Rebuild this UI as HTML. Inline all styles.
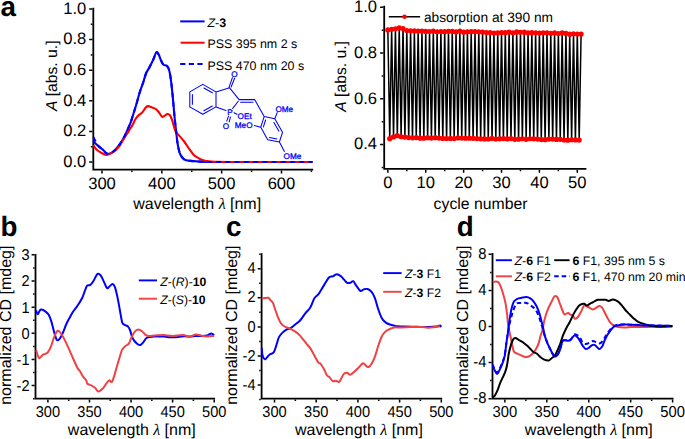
<!DOCTYPE html>
<html><head><meta charset="utf-8"><style>
html,body{margin:0;padding:0;background:#fff;width:685px;height:439px;overflow:hidden}
svg{display:block}
text{font-family:"Liberation Sans",sans-serif;text-rendering:geometricPrecision}
</style></head><body>
<svg width="685" height="439" viewBox="0 0 685 439">
<rect width="685" height="439" fill="#fff"/>
<path d="M93.30 8.60 V169.70 H312.30" fill="none" stroke="#000" stroke-width="1.80" stroke-linecap="square"/>
<path d="M92.40 162.00H89.20M92.40 131.40H89.20M92.40 100.80H89.20M92.40 70.20H89.20M92.40 39.60H89.20M92.40 9.00H89.20" stroke="#000" stroke-width="1.50"/>
<path d="M92.40 146.70H90.80M92.40 116.10H90.80M92.40 85.50H90.80M92.40 54.90H90.80M92.40 24.30H90.80" stroke="#000" stroke-width="1.50"/>
<path d="M102.00 170.60V173.60M161.83 170.60V173.60M221.66 170.60V173.60M281.49 170.60V173.60" stroke="#000" stroke-width="1.50"/>
<path d="M131.91 170.60V172.10M191.75 170.60V172.10M251.58 170.60V172.10M311.41 170.60V172.10" stroke="#000" stroke-width="1.50"/>
<text x="86.30" y="166.80" font-size="16.60" text-anchor="end">0.0</text>
<text x="86.30" y="136.20" font-size="16.60" text-anchor="end">0.2</text>
<text x="86.30" y="105.60" font-size="16.60" text-anchor="end">0.4</text>
<text x="86.30" y="75.00" font-size="16.60" text-anchor="end">0.6</text>
<text x="86.30" y="44.40" font-size="16.60" text-anchor="end">0.8</text>
<text x="86.30" y="13.80" font-size="16.60" text-anchor="end">1.0</text>
<text x="102.00" y="188.60" font-size="16.60" text-anchor="middle">300</text>
<text x="161.83" y="188.60" font-size="16.60" text-anchor="middle">400</text>
<text x="221.66" y="188.60" font-size="16.60" text-anchor="middle">500</text>
<text x="281.49" y="188.60" font-size="16.60" text-anchor="middle">600</text>
<text x="197.20" y="209.20" font-size="16.00" text-anchor="middle">wavelength <tspan font-family="Liberation Serif" font-style="italic">&#955;</tspan> [nm]</text>
<text transform="translate(56.5 75.8) rotate(-90)" font-size="15.7" text-anchor="middle"><tspan font-style="italic">A</tspan> [abs. u.]</text>
<path d="M93.3 141.0 C93.8 141.6 95.5 143.5 96.5 144.5 C97.5 145.5 98.5 146.2 99.6 147.1 C100.6 147.9 101.8 148.7 102.8 149.6 C103.8 150.5 104.7 151.8 105.5 152.5 C106.3 153.2 106.8 153.8 107.6 153.9 C108.4 154.0 109.5 153.8 110.5 153.3 C111.5 152.8 112.9 151.9 113.9 151.1 C114.9 150.2 115.8 149.3 116.7 148.2 C117.6 147.1 118.6 146.0 119.5 144.7 C120.4 143.4 121.4 141.8 122.3 140.2 C123.2 138.6 124.2 137.0 125.1 135.1 C126.0 133.2 127.0 131.0 127.9 128.9 C128.8 126.8 129.8 124.7 130.7 122.3 C131.6 119.9 132.3 117.3 133.2 114.5 C134.1 111.7 134.9 109.1 136.0 105.5 C137.1 101.9 138.4 96.5 139.6 92.7 C140.8 89.0 141.9 86.2 143.0 83.0 C144.1 79.8 145.0 76.0 146.0 73.5 C147.0 71.0 147.9 70.2 149.1 67.9 C150.3 65.7 151.9 62.6 153.1 60.0 C154.3 57.4 155.4 53.2 156.3 52.3 C157.2 51.4 157.9 53.2 158.7 54.6 C159.5 56.0 160.3 59.0 161.1 60.7 C161.9 62.4 162.6 63.9 163.5 64.7 C164.4 65.5 165.6 65.0 166.4 65.5 C167.2 66.0 167.7 66.6 168.3 67.9 C168.9 69.2 169.4 70.7 169.9 73.5 C170.4 76.3 171.0 80.2 171.5 84.7 C172.0 89.2 172.6 95.1 173.1 100.6 C173.6 106.1 174.1 112.3 174.6 117.5 C175.1 122.7 175.7 127.4 176.2 131.9 C176.7 136.4 177.1 141.0 177.8 144.7 C178.5 148.4 179.1 151.8 180.2 154.2 C181.3 156.6 182.5 158.2 184.2 159.3 C185.9 160.4 188.0 160.5 190.6 160.9 C193.2 161.3 195.9 161.4 200.0 161.6 C204.1 161.8 196.2 161.9 215.0 162.0 C233.8 162.1 296.2 162.0 312.5 162.0" fill="none" stroke="#0000ff" stroke-width="2.1" stroke-linejoin="round"/>
<path d="M93.3 145.0 C93.8 145.8 95.1 148.2 96.4 149.5 C97.7 150.8 99.5 151.8 101.2 152.7 C102.9 153.6 105.0 155.0 106.8 155.0 C108.6 155.0 110.3 154.0 112.3 152.7 C114.3 151.4 117.0 149.0 118.7 147.1 C120.4 145.2 121.2 143.1 122.5 141.0 C123.8 138.9 125.5 136.3 126.7 134.3 C128.0 132.3 128.9 130.7 130.0 129.0 C131.1 127.3 132.2 125.6 133.1 123.9 C134.0 122.2 134.6 120.5 135.5 119.0 C136.4 117.5 137.7 116.1 138.8 115.1 C139.9 114.1 140.8 114.1 142.0 112.8 C143.2 111.5 144.9 108.3 146.0 107.2 C147.1 106.1 147.4 106.1 148.3 106.1 C149.2 106.1 150.3 106.8 151.5 107.2 C152.7 107.7 154.3 108.0 155.5 108.8 C156.7 109.6 157.6 110.7 158.7 112.0 C159.8 113.3 161.0 116.0 161.9 116.7 C162.8 117.4 163.4 116.4 164.3 115.9 C165.2 115.5 166.6 114.1 167.5 114.0 C168.4 113.9 169.1 114.0 169.9 115.1 C170.7 116.2 171.4 118.0 172.3 120.7 C173.2 123.4 174.2 128.6 175.4 131.1 C176.6 133.6 177.9 134.2 179.4 135.9 C180.9 137.6 182.6 139.4 184.2 141.5 C185.8 143.6 187.4 146.3 189.0 148.6 C190.6 150.8 192.3 153.4 193.8 155.0 C195.3 156.6 196.8 157.1 198.2 157.9 C199.6 158.7 200.6 159.3 202.3 159.9 C204.0 160.5 206.4 161.0 208.4 161.3 C210.4 161.6 210.9 161.7 214.5 161.8 C218.1 161.9 213.7 162.0 230.0 162.0 C246.3 162.0 298.8 162.0 312.5 162.0" fill="none" stroke="#ff0000" stroke-width="2.1" stroke-linejoin="round"/>
<path d="M93.3 137.0 C93.8 138.0 95.5 141.3 96.5 143.0 C97.5 144.7 98.5 146.0 99.6 147.1 C100.6 148.2 101.8 148.7 102.8 149.6 C103.8 150.5 104.7 151.8 105.5 152.5 C106.3 153.2 106.8 153.8 107.6 153.9 C108.4 154.0 109.5 153.8 110.5 153.3 C111.5 152.8 112.9 151.9 113.9 151.1 C114.9 150.2 115.8 149.3 116.7 148.2 C117.6 147.1 118.6 146.0 119.5 144.7 C120.4 143.4 121.4 141.8 122.3 140.2 C123.2 138.6 124.2 137.0 125.1 135.1 C126.0 133.2 127.0 131.0 127.9 128.9 C128.8 126.8 129.8 124.7 130.7 122.3 C131.6 119.9 132.3 117.3 133.2 114.5 C134.1 111.7 134.9 109.1 136.0 105.5 C137.1 101.9 138.4 96.5 139.6 92.7 C140.8 89.0 141.9 86.2 143.0 83.0 C144.1 79.8 145.0 76.0 146.0 73.5 C147.0 71.0 147.9 70.2 149.1 67.9 C150.3 65.7 151.9 62.6 153.1 60.0 C154.3 57.4 155.4 53.2 156.3 52.3 C157.2 51.4 157.9 53.2 158.7 54.6 C159.5 56.0 160.3 59.0 161.1 60.7 C161.9 62.4 162.6 63.9 163.5 64.7 C164.4 65.5 165.6 65.0 166.4 65.5 C167.2 66.0 167.7 66.6 168.3 67.9 C168.9 69.2 169.4 70.7 169.9 73.5 C170.4 76.3 171.0 80.2 171.5 84.7 C172.0 89.2 172.6 95.1 173.1 100.6 C173.6 106.1 174.1 112.3 174.6 117.5 C175.1 122.7 175.7 127.4 176.2 131.9 C176.7 136.4 177.1 141.0 177.8 144.7 C178.5 148.4 179.1 151.8 180.2 154.2 C181.3 156.6 182.5 158.2 184.2 159.3 C185.9 160.4 188.0 160.5 190.6 160.9 C193.2 161.3 195.9 161.4 200.0 161.6 C204.1 161.8 196.2 161.9 215.0 162.0 C233.8 162.1 296.2 162.0 312.5 162.0" fill="none" stroke="#0000ff" stroke-width="2.1" stroke-dasharray="5 4.2" stroke-dashoffset="0"/>
<path d="M180.2 21.4H204.6" stroke="#0000ff" stroke-width="2"/>
<path d="M180.6 42.7H204.6" stroke="#ff0000" stroke-width="2"/>
<path d="M180.2 64.0H204.6" stroke="#0000ff" stroke-width="2" stroke-dasharray="5.2 3.4"/>
<text x="207.40" y="27.30" font-size="12.45" text-anchor="start"><tspan font-style="italic">Z</tspan>-<tspan font-weight="bold">3</tspan></text>
<text x="207.40" y="48.40" font-size="12.45" text-anchor="start">PSS 395 nm 2 s</text>
<text x="207.40" y="69.80" font-size="12.45" text-anchor="start">PSS 470 nm 20 s</text>
<path d="M202.8 84.4L216.0 91.9M216.0 91.9L216.0 106.9M216.0 106.9L202.8 114.3M202.8 114.3L189.8 106.9M189.8 106.9L189.8 91.9M189.8 91.9L202.8 84.4M203.9 88.0L212.3 92.8M212.3 106.0L203.9 110.7M192.4 104.2L192.4 94.6M216.0 91.9L229.6 87.8M229.6 87.8L239.1 99.6M238.3 101.2L232.7 108.4M216.0 106.9L226.0 110.4M228.9 87.6L232.4 77.6M231.1 87.0L234.6 78.2M239.1 99.6L254.6 99.6M240.6 102.3L253.0 102.3M254.6 99.6L264.2 116.4M264.2 116.4L274.8 118.7M274.8 118.7L282.5 132.3M282.5 132.3L279.4 142.0M279.4 142.0L267.7 139.7M267.7 139.7L260.8 127.2M260.8 127.2L264.2 116.4M273.9 122.4L278.8 131.1M276.9 139.0L269.4 137.6M263.4 126.9L265.6 120.0M274.8 118.7L277.2 112.6M279.4 142.0L284.4 151.4M260.8 127.2L254.4 125.6M228.4 116.3L226.8 121.1M230.4 117.1L229.2 121.9M234.0 112.7L237.1 114.3" fill="none" stroke="#0000ff" stroke-width="1.05" stroke-linecap="round"/>
<g fill="#0000ff" style="fill:#0000ff" stroke="#0000ff" stroke-width="0.3">
<text x="234.50" y="76.80" font-size="8.20" text-anchor="middle">O</text>
<text x="230.00" y="114.80" font-size="8.20" text-anchor="middle">P</text>
<text x="226.00" y="129.20" font-size="8.20" text-anchor="middle">O</text>
<text x="237.60" y="119.20" font-size="8.20" text-anchor="start">OEt</text>
<text x="234.80" y="127.60" font-size="8.20" text-anchor="start">MeO</text>
<text x="275.40" y="112.00" font-size="8.20" text-anchor="start">OMe</text>
<text x="283.60" y="158.60" font-size="8.20" text-anchor="start">OMe</text>
</g>
<path d="M384.20 6.60 V168.80 H585.50" fill="none" stroke="#000" stroke-width="1.80" stroke-linecap="square"/>
<path d="M383.30 144.60H380.10M383.30 98.85H380.10M383.30 53.10H380.10M383.30 7.35H380.10" stroke="#000" stroke-width="1.50"/>
<path d="M383.30 167.47H381.70M383.30 121.73H381.70M383.30 75.98H381.70M383.30 30.23H381.70" stroke="#000" stroke-width="1.50"/>
<path d="M387.85 169.70V172.70M425.74 169.70V172.70M463.63 169.70V172.70M501.52 169.70V172.70M539.41 169.70V172.70M577.30 169.70V172.70" stroke="#000" stroke-width="1.50"/>
<path d="M406.80 169.70V171.20M444.69 169.70V171.20M482.58 169.70V171.20M520.47 169.70V171.20M558.36 169.70V171.20" stroke="#000" stroke-width="1.50"/>
<text x="377.00" y="149.40" font-size="16.60" text-anchor="end">0.4</text>
<text x="377.00" y="103.65" font-size="16.60" text-anchor="end">0.6</text>
<text x="377.00" y="57.90" font-size="16.60" text-anchor="end">0.8</text>
<text x="377.00" y="12.15" font-size="16.60" text-anchor="end">1.0</text>
<text x="387.85" y="188.40" font-size="16.60" text-anchor="middle">0</text>
<text x="425.74" y="188.40" font-size="16.60" text-anchor="middle">10</text>
<text x="463.63" y="188.40" font-size="16.60" text-anchor="middle">20</text>
<text x="501.52" y="188.40" font-size="16.60" text-anchor="middle">30</text>
<text x="539.41" y="188.40" font-size="16.60" text-anchor="middle">40</text>
<text x="577.30" y="188.40" font-size="16.60" text-anchor="middle">50</text>
<text x="480.60" y="208.70" font-size="15.80" text-anchor="middle">cycle number</text>
<text transform="translate(345.7 76.4) rotate(-90)" font-size="15.7" text-anchor="middle"><tspan font-style="italic">A</tspan> [abs. u.]</text>
<path d="M387.85 29.89 L389.74 138.64 L391.64 29.24 L393.53 136.88 L395.43 28.75 L397.32 135.65 L399.22 27.92 L401.11 136.77 L403.01 28.61 L404.90 137.09 L406.80 30.59 L408.69 137.61 L410.58 30.80 L412.48 137.81 L414.37 30.97 L416.27 137.60 L418.16 31.10 L420.06 138.22 L421.95 31.09 L423.85 138.17 L425.74 31.41 L427.63 137.67 L429.53 31.55 L431.42 138.12 L433.32 31.04 L435.21 137.70 L437.11 31.76 L439.00 138.08 L440.90 31.62 L442.79 138.44 L444.69 31.66 L446.58 138.50 L448.47 31.31 L450.37 138.44 L452.26 31.41 L454.16 138.57 L456.05 31.97 L457.95 137.93 L459.84 31.12 L461.74 138.06 L463.63 32.16 L465.52 138.27 L467.42 31.79 L469.31 138.22 L471.21 31.69 L473.10 138.33 L475.00 31.54 L476.89 138.54 L478.79 31.86 L480.68 138.85 L482.58 32.02 L484.47 138.92 L486.36 32.49 L488.26 139.02 L490.15 32.54 L492.05 138.41 L493.94 33.03 L495.84 139.10 L497.73 32.94 L499.63 138.83 L501.52 32.56 L503.41 138.59 L505.31 32.72 L507.20 138.92 L509.10 32.08 L510.99 138.55 L512.89 32.78 L514.78 139.33 L516.68 31.89 L518.57 139.22 L520.47 32.29 L522.36 138.74 L524.25 32.19 L526.15 139.28 L528.04 32.93 L529.94 138.74 L531.83 32.66 L533.73 138.78 L535.62 32.82 L537.52 139.04 L539.41 33.06 L541.30 139.62 L543.20 32.81 L545.09 139.71 L546.99 32.77 L548.88 139.05 L550.78 33.24 L552.67 139.09 L554.57 32.89 L556.46 139.47 L558.36 33.51 L560.25 139.34 L562.14 32.95 L564.04 139.99 L565.93 33.38 L567.83 140.14 L569.72 34.18 L571.62 139.75 L573.51 33.75 L575.41 139.94 L577.30 34.07 L579.19 140.08 L581.09 34.07" fill="none" stroke="#000" stroke-width="1.5" stroke-linejoin="miter"/>
<g fill="#ff0000">
<circle cx="387.85" cy="29.89" r="2.6"/>
<circle cx="389.74" cy="138.64" r="2.6"/>
<circle cx="391.64" cy="29.24" r="2.6"/>
<circle cx="393.53" cy="136.88" r="2.6"/>
<circle cx="395.43" cy="28.75" r="2.6"/>
<circle cx="397.32" cy="135.65" r="2.6"/>
<circle cx="399.22" cy="27.92" r="2.6"/>
<circle cx="401.11" cy="136.77" r="2.6"/>
<circle cx="403.01" cy="28.61" r="2.6"/>
<circle cx="404.90" cy="137.09" r="2.6"/>
<circle cx="406.80" cy="30.59" r="2.6"/>
<circle cx="408.69" cy="137.61" r="2.6"/>
<circle cx="410.58" cy="30.80" r="2.6"/>
<circle cx="412.48" cy="137.81" r="2.6"/>
<circle cx="414.37" cy="30.97" r="2.6"/>
<circle cx="416.27" cy="137.60" r="2.6"/>
<circle cx="418.16" cy="31.10" r="2.6"/>
<circle cx="420.06" cy="138.22" r="2.6"/>
<circle cx="421.95" cy="31.09" r="2.6"/>
<circle cx="423.85" cy="138.17" r="2.6"/>
<circle cx="425.74" cy="31.41" r="2.6"/>
<circle cx="427.63" cy="137.67" r="2.6"/>
<circle cx="429.53" cy="31.55" r="2.6"/>
<circle cx="431.42" cy="138.12" r="2.6"/>
<circle cx="433.32" cy="31.04" r="2.6"/>
<circle cx="435.21" cy="137.70" r="2.6"/>
<circle cx="437.11" cy="31.76" r="2.6"/>
<circle cx="439.00" cy="138.08" r="2.6"/>
<circle cx="440.90" cy="31.62" r="2.6"/>
<circle cx="442.79" cy="138.44" r="2.6"/>
<circle cx="444.69" cy="31.66" r="2.6"/>
<circle cx="446.58" cy="138.50" r="2.6"/>
<circle cx="448.47" cy="31.31" r="2.6"/>
<circle cx="450.37" cy="138.44" r="2.6"/>
<circle cx="452.26" cy="31.41" r="2.6"/>
<circle cx="454.16" cy="138.57" r="2.6"/>
<circle cx="456.05" cy="31.97" r="2.6"/>
<circle cx="457.95" cy="137.93" r="2.6"/>
<circle cx="459.84" cy="31.12" r="2.6"/>
<circle cx="461.74" cy="138.06" r="2.6"/>
<circle cx="463.63" cy="32.16" r="2.6"/>
<circle cx="465.52" cy="138.27" r="2.6"/>
<circle cx="467.42" cy="31.79" r="2.6"/>
<circle cx="469.31" cy="138.22" r="2.6"/>
<circle cx="471.21" cy="31.69" r="2.6"/>
<circle cx="473.10" cy="138.33" r="2.6"/>
<circle cx="475.00" cy="31.54" r="2.6"/>
<circle cx="476.89" cy="138.54" r="2.6"/>
<circle cx="478.79" cy="31.86" r="2.6"/>
<circle cx="480.68" cy="138.85" r="2.6"/>
<circle cx="482.58" cy="32.02" r="2.6"/>
<circle cx="484.47" cy="138.92" r="2.6"/>
<circle cx="486.36" cy="32.49" r="2.6"/>
<circle cx="488.26" cy="139.02" r="2.6"/>
<circle cx="490.15" cy="32.54" r="2.6"/>
<circle cx="492.05" cy="138.41" r="2.6"/>
<circle cx="493.94" cy="33.03" r="2.6"/>
<circle cx="495.84" cy="139.10" r="2.6"/>
<circle cx="497.73" cy="32.94" r="2.6"/>
<circle cx="499.63" cy="138.83" r="2.6"/>
<circle cx="501.52" cy="32.56" r="2.6"/>
<circle cx="503.41" cy="138.59" r="2.6"/>
<circle cx="505.31" cy="32.72" r="2.6"/>
<circle cx="507.20" cy="138.92" r="2.6"/>
<circle cx="509.10" cy="32.08" r="2.6"/>
<circle cx="510.99" cy="138.55" r="2.6"/>
<circle cx="512.89" cy="32.78" r="2.6"/>
<circle cx="514.78" cy="139.33" r="2.6"/>
<circle cx="516.68" cy="31.89" r="2.6"/>
<circle cx="518.57" cy="139.22" r="2.6"/>
<circle cx="520.47" cy="32.29" r="2.6"/>
<circle cx="522.36" cy="138.74" r="2.6"/>
<circle cx="524.25" cy="32.19" r="2.6"/>
<circle cx="526.15" cy="139.28" r="2.6"/>
<circle cx="528.04" cy="32.93" r="2.6"/>
<circle cx="529.94" cy="138.74" r="2.6"/>
<circle cx="531.83" cy="32.66" r="2.6"/>
<circle cx="533.73" cy="138.78" r="2.6"/>
<circle cx="535.62" cy="32.82" r="2.6"/>
<circle cx="537.52" cy="139.04" r="2.6"/>
<circle cx="539.41" cy="33.06" r="2.6"/>
<circle cx="541.30" cy="139.62" r="2.6"/>
<circle cx="543.20" cy="32.81" r="2.6"/>
<circle cx="545.09" cy="139.71" r="2.6"/>
<circle cx="546.99" cy="32.77" r="2.6"/>
<circle cx="548.88" cy="139.05" r="2.6"/>
<circle cx="550.78" cy="33.24" r="2.6"/>
<circle cx="552.67" cy="139.09" r="2.6"/>
<circle cx="554.57" cy="32.89" r="2.6"/>
<circle cx="556.46" cy="139.47" r="2.6"/>
<circle cx="558.36" cy="33.51" r="2.6"/>
<circle cx="560.25" cy="139.34" r="2.6"/>
<circle cx="562.14" cy="32.95" r="2.6"/>
<circle cx="564.04" cy="139.99" r="2.6"/>
<circle cx="565.93" cy="33.38" r="2.6"/>
<circle cx="567.83" cy="140.14" r="2.6"/>
<circle cx="569.72" cy="34.18" r="2.6"/>
<circle cx="571.62" cy="139.75" r="2.6"/>
<circle cx="573.51" cy="33.75" r="2.6"/>
<circle cx="575.41" cy="139.94" r="2.6"/>
<circle cx="577.30" cy="34.07" r="2.6"/>
<circle cx="579.19" cy="140.08" r="2.6"/>
<circle cx="581.09" cy="34.07" r="2.6"/>
</g>
<path d="M388.8 16.8H420.1" stroke="#000" stroke-width="1.6"/>
<circle cx="404.5" cy="16.8" r="2.3" fill="#ff0000"/>
<text x="423.90" y="21.70" font-size="13.75" text-anchor="start">absorption at 390 nm</text>
<path d="M35.50 254.80 V398.70 H214.20" fill="none" stroke="#000" stroke-width="1.80" stroke-linecap="square"/>
<path d="M34.60 254.85H31.60M34.60 281.00H31.60M34.60 307.15H31.60M34.60 333.30H31.60M34.60 359.45H31.60M34.60 385.60H31.60" stroke="#000" stroke-width="1.50"/>
<path d="M34.60 267.93H33.10M34.60 294.08H33.10M34.60 320.23H33.10M34.60 346.38H33.10M34.60 372.52H33.10M34.60 398.68H33.10" stroke="#000" stroke-width="1.50"/>
<path d="M47.90 399.60V402.60M89.47 399.60V402.60M131.05 399.60V402.60M172.62 399.60V402.60M214.20 399.60V402.60" stroke="#000" stroke-width="1.50"/>
<path d="M68.69 399.60V401.10M110.26 399.60V401.10M151.84 399.60V401.10M193.41 399.60V401.10" stroke="#000" stroke-width="1.50"/>
<text transform="translate(29.50 260.25) scale(1 1.070)" font-size="14.60" text-anchor="end">3</text>
<text transform="translate(29.50 286.40) scale(1 1.070)" font-size="14.60" text-anchor="end">2</text>
<text transform="translate(29.50 312.55) scale(1 1.070)" font-size="14.60" text-anchor="end">1</text>
<text transform="translate(29.50 338.70) scale(1 1.070)" font-size="14.60" text-anchor="end">0</text>
<text transform="translate(29.50 364.85) scale(1 1.070)" font-size="14.60" text-anchor="end">-1</text>
<text transform="translate(29.50 391.00) scale(1 1.070)" font-size="14.60" text-anchor="end">-2</text>
<text transform="translate(47.90 416.60) scale(1 1.070)" font-size="14.60" text-anchor="middle">300</text>
<text transform="translate(89.47 416.60) scale(1 1.070)" font-size="14.60" text-anchor="middle">350</text>
<text transform="translate(131.05 416.60) scale(1 1.070)" font-size="14.60" text-anchor="middle">400</text>
<text transform="translate(172.62 416.60) scale(1 1.070)" font-size="14.60" text-anchor="middle">450</text>
<text transform="translate(214.20 416.60) scale(1 1.070)" font-size="14.60" text-anchor="middle">500</text>
<text x="131.80" y="435.40" font-size="16.00" text-anchor="middle">wavelength <tspan font-family="Liberation Serif" font-style="italic">&#955;</tspan> [nm]</text>
<text transform="translate(11.1 325.2) rotate(-90)" font-size="16" text-anchor="middle">normalized CD [mdeg]</text>
<path d="M36.1 310.3 C36.4 311.0 37.1 314.2 37.7 314.3 C38.3 314.4 38.9 311.8 39.5 311.0 C40.1 310.2 40.4 309.5 41.4 309.6 C42.4 309.7 44.1 310.5 45.3 311.4 C46.5 312.3 47.7 313.1 48.7 314.8 C49.7 316.5 50.5 318.6 51.4 321.6 C52.3 324.6 53.5 330.0 54.4 333.0 C55.3 336.0 55.9 338.5 56.6 339.6 C57.4 340.7 58.0 340.5 58.9 339.6 C59.8 338.7 61.0 336.8 62.3 334.2 C63.5 331.6 65.2 326.7 66.4 324.0 C67.6 321.3 68.4 320.0 69.5 318.0 C70.6 316.0 71.5 314.1 72.8 312.0 C74.1 309.9 75.9 308.1 77.5 305.7 C79.1 303.3 81.1 300.1 82.3 297.7 C83.5 295.3 83.9 293.3 84.7 291.3 C85.5 289.3 86.2 286.8 87.1 285.7 C88.0 284.6 89.2 285.7 90.3 284.9 C91.4 284.1 92.6 282.4 93.5 281.0 C94.4 279.6 95.2 277.4 95.9 276.2 C96.7 275.0 97.2 273.9 98.0 273.8 C98.8 273.7 99.7 274.1 100.7 275.4 C101.7 276.7 102.9 279.6 103.9 281.7 C105.0 283.8 106.1 287.3 107.0 288.1 C107.9 288.9 108.5 287.2 109.4 286.5 C110.3 285.8 111.7 284.0 112.6 284.1 C113.5 284.2 114.2 285.2 115.0 287.3 C115.8 289.4 116.6 293.2 117.4 296.9 C118.2 300.6 119.0 305.4 119.8 309.7 C120.6 313.9 121.4 319.9 122.2 322.4 C123.0 324.9 123.7 324.1 124.6 324.8 C125.5 325.5 126.9 325.5 127.8 326.4 C128.7 327.3 129.2 328.1 130.0 330.0 C130.8 331.9 131.3 335.4 132.4 337.7 C133.5 340.0 135.5 342.4 136.8 343.6 C138.1 344.8 139.3 345.2 140.4 345.0 C141.5 344.8 142.3 343.3 143.4 342.1 C144.5 340.9 145.3 338.6 147.0 337.7 C148.7 336.8 150.8 336.8 153.6 336.6 C156.4 336.4 161.1 336.5 163.8 336.6 C166.5 336.7 167.6 337.1 170.0 337.2 C172.4 337.3 176.1 337.2 178.4 337.0 C180.7 336.8 182.1 336.3 184.0 336.2 C185.9 336.1 188.0 336.6 190.0 336.6 C192.0 336.6 194.0 336.1 196.0 336.0 C198.0 335.9 200.0 336.1 201.8 336.0 C203.6 335.9 205.4 335.9 207.0 335.5 C208.6 335.1 210.0 333.5 211.2 333.4 C212.4 333.3 213.7 334.8 214.2 335.1" fill="none" stroke="#0000ff" stroke-width="2.0" stroke-linejoin="round"/>
<path d="M36.1 350.1 C36.6 351.4 38.0 357.3 39.1 358.1 C40.2 358.9 41.6 355.6 43.0 354.7 C44.4 353.8 46.2 354.1 47.5 352.8 C48.8 351.5 49.8 349.4 50.9 346.7 C52.0 344.0 53.2 339.0 54.4 336.4 C55.5 333.8 56.7 331.2 57.8 330.8 C58.9 330.4 59.9 331.8 61.2 333.7 C62.5 335.6 64.1 338.6 65.8 342.1 C67.5 345.6 69.5 350.5 71.4 354.7 C73.3 358.9 75.7 364.4 77.1 367.2 C78.5 369.9 79.0 369.7 80.0 371.2 C81.0 372.7 81.8 374.8 82.8 376.3 C83.8 377.8 85.4 379.1 86.2 380.4 C87.0 381.6 86.6 383.0 87.4 383.8 C88.2 384.6 89.9 384.8 90.8 385.2 C91.7 385.6 92.2 386.0 93.0 386.5 C93.8 387.0 94.5 387.2 95.4 388.1 C96.3 389.0 97.2 391.6 98.5 391.6 C99.8 391.6 101.8 389.4 103.1 388.1 C104.3 386.8 105.0 385.3 106.0 384.0 C107.0 382.7 108.2 380.8 109.2 380.4 C110.2 379.9 111.0 383.6 112.3 381.3 C113.6 379.0 115.4 371.5 116.9 366.5 C118.4 361.5 120.5 354.2 121.5 351.2 C122.5 348.2 122.2 349.6 122.9 348.7 C123.6 347.8 124.8 346.6 125.8 345.8 C126.8 345.0 127.8 345.1 128.8 343.6 C129.8 342.1 130.7 338.9 131.7 337.0 C132.7 335.1 133.5 333.2 134.6 331.9 C135.7 330.6 137.0 329.5 138.2 329.4 C139.4 329.3 140.7 330.3 141.9 331.2 C143.1 332.1 144.3 334.0 145.5 334.8 C146.7 335.6 147.6 335.9 149.2 336.0 C150.8 336.1 152.6 335.6 155.0 335.5 C157.4 335.4 160.9 335.0 163.8 335.1 C166.7 335.2 169.4 336.0 172.6 336.0 C175.8 336.0 179.9 335.0 182.8 335.1 C185.7 335.2 187.8 336.8 190.0 336.7 C192.2 336.6 193.5 334.6 195.9 334.5 C198.3 334.4 201.6 336.1 204.7 336.3 C207.8 336.6 212.6 336.1 214.2 336.0" fill="none" stroke="#f04145" stroke-width="2.0" stroke-linejoin="round"/>
<path d="M138.8 280.4H157" stroke="#0000ff" stroke-width="1.9"/>
<path d="M138.8 298.7H157" stroke="#f04145" stroke-width="1.9"/>
<text x="160.20" y="285.50" font-size="12.20" text-anchor="start"><tspan font-style="italic">Z</tspan>-(<tspan font-style="italic">R</tspan>)-<tspan font-weight="bold">10</tspan></text>
<text x="160.20" y="303.80" font-size="12.20" text-anchor="start"><tspan font-style="italic">Z</tspan>-(<tspan font-style="italic">S</tspan>)-<tspan font-weight="bold">10</tspan></text>
<path d="M261.60 254.20 V398.70 H441.30" fill="none" stroke="#000" stroke-width="1.80" stroke-linecap="square"/>
<path d="M260.70 268.78H257.70M260.70 297.84H257.70M260.70 326.90H257.70M260.70 355.96H257.70M260.70 385.02H257.70" stroke="#000" stroke-width="1.50"/>
<path d="M260.70 254.25H259.20M260.70 283.31H259.20M260.70 312.37H259.20M260.70 341.43H259.20M260.70 370.49H259.20M260.70 399.55H259.20" stroke="#000" stroke-width="1.50"/>
<path d="M274.50 399.60V402.60M316.20 399.60V402.60M357.90 399.60V402.60M399.60 399.60V402.60M441.30 399.60V402.60" stroke="#000" stroke-width="1.50"/>
<path d="M295.35 399.60V401.10M337.05 399.60V401.10M378.75 399.60V401.10M420.45 399.60V401.10" stroke="#000" stroke-width="1.50"/>
<text transform="translate(255.60 273.38) scale(1 1.070)" font-size="14.60" text-anchor="end">4</text>
<text transform="translate(255.60 302.44) scale(1 1.070)" font-size="14.60" text-anchor="end">2</text>
<text transform="translate(255.60 331.50) scale(1 1.070)" font-size="14.60" text-anchor="end">0</text>
<text transform="translate(255.60 360.56) scale(1 1.070)" font-size="14.60" text-anchor="end">-2</text>
<text transform="translate(255.60 389.62) scale(1 1.070)" font-size="14.60" text-anchor="end">-4</text>
<text transform="translate(274.50 416.60) scale(1 1.070)" font-size="14.60" text-anchor="middle">300</text>
<text transform="translate(316.20 416.60) scale(1 1.070)" font-size="14.60" text-anchor="middle">350</text>
<text transform="translate(357.90 416.60) scale(1 1.070)" font-size="14.60" text-anchor="middle">400</text>
<text transform="translate(399.60 416.60) scale(1 1.070)" font-size="14.60" text-anchor="middle">450</text>
<text transform="translate(441.30 416.60) scale(1 1.070)" font-size="14.60" text-anchor="middle">500</text>
<text x="358.90" y="435.40" font-size="16.00" text-anchor="middle">wavelength <tspan font-family="Liberation Serif" font-style="italic">&#955;</tspan> [nm]</text>
<text transform="translate(237.2 325.2) rotate(-90)" font-size="16" text-anchor="middle">normalized CD [mdeg]</text>
<path d="M261.8 347.9 C261.9 349.3 262.1 354.2 262.7 356.1 C263.2 358.0 264.3 359.2 265.1 359.4 C265.9 359.5 266.5 357.9 267.3 357.0 C268.1 356.1 268.9 355.0 270.0 354.2 C271.1 353.4 272.6 353.9 273.7 352.4 C274.8 350.9 275.5 347.7 276.4 345.1 C277.3 342.5 278.0 339.0 279.1 336.9 C280.2 334.8 281.6 333.6 282.8 332.4 C284.0 331.2 285.0 330.4 286.4 329.6 C287.8 328.8 289.5 328.7 291.0 327.8 C292.5 326.9 294.0 325.4 295.5 324.2 C297.0 323.0 298.5 322.3 300.1 320.5 C301.7 318.7 303.4 315.8 305.1 313.6 C306.8 311.4 308.8 310.0 310.3 307.4 C311.9 304.8 313.0 300.4 314.4 298.2 C315.8 296.0 317.0 296.2 318.5 294.1 C320.0 292.1 321.9 288.6 323.6 285.9 C325.3 283.2 327.2 279.3 328.7 277.7 C330.2 276.1 331.4 276.9 332.8 276.3 C334.2 275.7 335.5 274.2 336.9 274.2 C338.3 274.2 339.8 275.4 341.0 276.3 C342.2 277.2 343.1 278.6 344.1 279.7 C345.1 280.8 346.2 282.3 347.2 282.8 C348.2 283.3 349.3 283.1 350.3 282.8 C351.3 282.5 352.3 280.7 353.3 281.2 C354.3 281.7 355.2 284.3 356.4 285.9 C357.6 287.5 359.3 290.4 360.5 291.0 C361.7 291.6 362.4 289.7 363.6 289.4 C364.8 289.1 366.3 288.6 367.7 289.0 C369.1 289.4 370.6 290.6 371.8 292.1 C373.0 293.6 373.9 295.5 374.9 298.2 C375.9 300.9 376.9 305.2 378.0 308.5 C379.1 311.8 380.5 315.7 381.7 318.0 C382.9 320.3 383.8 321.0 385.2 322.1 C386.6 323.2 388.1 323.9 389.9 324.5 C391.6 325.1 393.2 325.5 395.7 325.9 C398.2 326.2 401.5 326.5 405.0 326.6 C408.5 326.8 412.8 326.7 416.7 326.8 C420.6 326.9 425.2 327.1 428.4 327.1 C431.6 327.1 434.1 326.9 436.0 326.6 C437.9 326.4 439.2 325.5 440.1 325.6 C441.0 325.7 441.0 326.8 441.2 327.0" fill="none" stroke="#0000ff" stroke-width="2.0" stroke-linejoin="round"/>
<path d="M261.8 298.7 C262.3 298.6 263.5 298.2 264.6 298.1 C265.7 298.0 267.1 297.4 268.2 297.8 C269.2 298.2 270.1 299.6 270.9 300.5 C271.7 301.4 272.3 301.5 273.1 303.2 C273.9 304.9 274.6 308.1 275.5 310.5 C276.4 312.9 277.3 315.7 278.2 317.8 C279.1 319.9 279.9 321.9 281.0 323.3 C282.1 324.8 283.2 325.6 284.6 326.5 C286.0 327.4 287.8 327.8 289.2 328.4 C290.6 329.0 291.6 329.5 292.8 330.2 C294.0 330.9 295.2 331.5 296.4 332.4 C297.6 333.3 298.9 334.4 300.0 335.6 C301.1 336.8 302.1 338.3 303.2 339.6 C304.3 340.9 305.2 342.1 306.4 343.6 C307.6 345.1 309.1 346.4 310.4 348.4 C311.7 350.4 313.1 353.1 314.4 355.5 C315.7 357.9 317.3 361.3 318.4 362.7 C319.4 364.1 319.8 362.7 320.7 363.8 C321.6 364.9 322.8 367.2 323.9 369.1 C325.0 371.1 326.2 374.2 327.1 375.5 C328.0 376.8 328.6 376.2 329.5 377.1 C330.4 378.0 331.6 380.5 332.7 381.1 C333.8 381.7 334.8 380.6 335.9 380.7 C337.0 380.8 338.2 382.4 339.1 381.9 C340.0 381.4 340.7 379.2 341.5 377.9 C342.3 376.6 343.0 374.8 343.9 373.9 C344.8 373.0 346.0 372.7 347.1 372.8 C348.2 372.9 349.1 374.9 350.3 374.7 C351.5 374.5 353.0 372.9 354.3 371.8 C355.6 370.7 356.8 369.4 358.2 368.0 C359.6 366.6 361.7 363.6 363.0 363.2 C364.3 362.8 365.3 365.3 366.2 365.9 C367.1 366.5 367.7 367.4 368.6 367.0 C369.5 366.6 370.7 365.3 371.8 363.5 C372.9 361.7 373.9 359.2 375.0 356.3 C376.1 353.4 377.1 349.2 378.2 346.0 C379.3 342.8 380.3 339.5 381.4 337.2 C382.5 334.9 383.5 333.6 384.6 332.4 C385.7 331.2 386.9 330.4 388.0 329.8 C389.1 329.2 389.9 328.9 391.0 328.5 C392.1 328.1 392.9 327.5 394.5 327.4 C396.1 327.2 397.7 327.7 400.4 327.6 C403.1 327.6 407.2 327.2 410.9 327.1 C414.6 327.0 419.3 327.0 422.6 327.1 C425.9 327.2 427.8 327.8 430.7 327.6 C433.6 327.5 438.5 326.4 440.1 326.2" fill="none" stroke="#f04145" stroke-width="2.0" stroke-linejoin="round"/>
<path d="M383.2 273.1H401.6" stroke="#0000ff" stroke-width="1.9"/>
<path d="M383.2 291.8H401.6" stroke="#f04145" stroke-width="1.9"/>
<text x="405.00" y="278.40" font-size="12.20" text-anchor="start"><tspan font-style="italic">Z</tspan>-<tspan font-weight="bold">3</tspan> F1</text>
<text x="405.00" y="297.10" font-size="12.20" text-anchor="start"><tspan font-style="italic">Z</tspan>-<tspan font-weight="bold">3</tspan> F2</text>
<path d="M492.50 254.00 V398.70 H672.60" fill="none" stroke="#000" stroke-width="1.80" stroke-linecap="square"/>
<path d="M491.60 254.34H488.60M491.60 290.42H488.60M491.60 326.50H488.60M491.60 362.58H488.60M491.60 398.66H488.60" stroke="#000" stroke-width="1.50"/>
<path d="M491.60 272.38H490.10M491.60 308.46H490.10M491.60 344.54H490.10M491.60 380.62H490.10" stroke="#000" stroke-width="1.50"/>
<path d="M504.90 399.60V402.60M546.82 399.60V402.60M588.75 399.60V402.60M630.67 399.60V402.60M672.60 399.60V402.60" stroke="#000" stroke-width="1.50"/>
<path d="M525.86 399.60V401.10M567.79 399.60V401.10M609.71 399.60V401.10M651.64 399.60V401.10" stroke="#000" stroke-width="1.50"/>
<text transform="translate(486.50 258.94) scale(1 1.070)" font-size="14.80" text-anchor="end">8</text>
<text transform="translate(486.50 295.02) scale(1 1.070)" font-size="14.80" text-anchor="end">4</text>
<text transform="translate(486.50 331.10) scale(1 1.070)" font-size="14.80" text-anchor="end">0</text>
<text transform="translate(486.50 367.18) scale(1 1.070)" font-size="14.80" text-anchor="end">-4</text>
<text transform="translate(486.50 403.26) scale(1 1.070)" font-size="14.80" text-anchor="end">-8</text>
<text transform="translate(504.90 416.60) scale(1 1.070)" font-size="14.80" text-anchor="middle">300</text>
<text transform="translate(546.82 416.60) scale(1 1.070)" font-size="14.80" text-anchor="middle">350</text>
<text transform="translate(588.75 416.60) scale(1 1.070)" font-size="14.80" text-anchor="middle">400</text>
<text transform="translate(630.67 416.60) scale(1 1.070)" font-size="14.80" text-anchor="middle">450</text>
<text transform="translate(672.60 416.60) scale(1 1.070)" font-size="14.80" text-anchor="middle">500</text>
<text x="588.80" y="435.40" font-size="16.00" text-anchor="middle">wavelength <tspan font-family="Liberation Serif" font-style="italic">&#955;</tspan> [nm]</text>
<text transform="translate(468.1 325.2) rotate(-90)" font-size="16" text-anchor="middle">normalized CD [mdeg]</text>
<path d="M492.8 282.3 C493.3 282.1 494.8 281.4 495.7 281.4 C496.6 281.4 497.6 281.4 498.5 282.3 C499.4 283.2 500.0 284.9 500.8 286.8 C501.6 288.7 502.3 291.0 503.1 293.7 C503.9 296.4 504.7 299.4 505.4 302.8 C506.1 306.2 506.6 310.4 507.1 314.2 C507.6 318.0 507.6 321.9 508.2 325.6 C508.8 329.3 509.7 332.7 510.5 336.4 C511.3 340.1 512.1 345.1 512.8 347.8 C513.5 350.5 513.4 351.2 514.5 352.3 C515.6 353.4 517.8 353.8 519.6 354.6 C521.4 355.4 523.6 356.7 525.3 356.9 C527.0 357.1 528.6 356.5 529.9 355.8 C531.2 355.1 532.2 354.2 533.3 352.9 C534.4 351.6 535.8 349.6 536.7 347.8 C537.7 346.0 538.4 344.1 539.0 342.1 C539.6 340.1 539.9 338.0 540.5 336.0 C541.1 334.0 541.9 332.5 542.5 330.0 C543.1 327.5 543.5 323.8 544.2 321.0 C544.9 318.2 545.7 315.3 546.5 313.0 C547.3 310.7 547.9 309.2 548.8 307.3 C549.6 305.4 550.8 303.3 551.6 301.6 C552.5 299.9 553.2 298.0 553.9 297.1 C554.6 296.2 555.0 296.0 555.6 296.0 C556.2 296.0 556.6 296.0 557.3 297.1 C558.0 298.2 558.8 300.8 559.6 302.8 C560.4 304.8 561.1 307.1 561.9 309.0 C562.7 310.9 563.5 313.4 564.2 314.2 C565.0 315.0 565.7 313.8 566.4 313.6 C567.1 313.4 567.5 312.8 568.2 313.0 C568.9 313.2 569.6 314.3 570.4 314.7 C571.1 315.1 572.0 314.7 572.7 315.3 C573.4 315.9 573.8 317.6 574.4 318.2 C575.0 318.8 575.4 319.0 576.1 318.7 C576.8 318.4 577.5 317.6 578.4 316.4 C579.3 315.1 580.3 313.0 581.3 311.2 C582.2 309.4 583.1 306.3 584.1 305.5 C585.1 304.7 586.0 306.2 587.0 306.6 C588.0 307.0 588.8 307.3 589.8 307.8 C590.8 308.3 591.7 309.5 592.7 309.5 C593.8 309.5 595.0 308.4 596.1 307.8 C597.2 307.2 598.5 306.1 599.5 306.1 C600.5 306.1 601.4 306.8 602.3 307.8 C603.1 308.8 603.7 310.6 604.6 312.3 C605.5 314.0 606.5 316.3 607.5 318.0 C608.5 319.7 609.3 321.4 610.3 322.6 C611.3 323.8 612.4 324.6 613.7 325.4 C615.0 326.1 616.4 326.8 618.3 327.1 C620.2 327.4 622.8 327.4 625.0 327.4 C627.2 327.4 628.4 327.1 631.4 327.0 C634.4 326.9 639.0 327.1 642.8 327.0 C646.6 326.9 649.3 326.8 654.2 326.7 C659.1 326.6 669.4 326.7 672.4 326.7" fill="none" stroke="#f04145" stroke-width="2.0" stroke-linejoin="round"/>
<path d="M492.6 365.3 C492.9 366.0 493.5 368.0 494.2 369.4 C494.9 370.8 496.0 373.1 496.7 373.6 C497.4 374.1 497.6 373.4 498.3 372.4 C499.0 371.3 500.0 369.0 500.8 367.3 C501.6 365.6 502.2 364.2 502.9 362.2 C503.6 360.1 504.3 358.4 504.9 355.0 C505.5 351.6 505.9 346.1 506.5 342.1 C507.1 338.1 507.6 335.1 508.2 331.0 C508.8 326.9 509.3 321.4 509.9 317.6 C510.5 313.9 510.9 311.2 511.6 308.5 C512.3 305.8 513.0 303.2 513.9 301.6 C514.8 300.0 516.0 299.5 517.3 298.8 C518.6 298.1 520.4 298.0 521.9 297.7 C523.4 297.4 525.1 297.0 526.4 297.1 C527.7 297.2 528.8 297.5 529.9 298.2 C531.0 298.9 532.2 299.7 533.3 301.1 C534.4 302.5 535.6 304.3 536.7 306.5 C537.8 308.7 538.9 311.8 539.7 314.2 C540.5 316.6 540.8 318.7 541.4 321.0 C542.0 323.3 542.5 325.3 543.1 327.8 C543.7 330.3 544.0 333.2 544.8 335.9 C545.6 338.6 546.8 341.6 547.7 343.9 C548.7 346.2 549.5 347.6 550.5 349.6 C551.5 351.6 552.9 354.8 553.9 355.8 C554.9 356.8 555.8 356.4 556.8 355.6 C557.8 354.8 558.6 353.2 559.6 350.8 C560.6 348.4 561.5 342.9 562.5 341.1 C563.5 339.4 564.3 340.4 565.3 340.3 C566.2 340.2 567.4 340.8 568.2 340.7 C569.1 340.6 569.6 340.5 570.4 339.9 C571.1 339.3 571.9 337.9 572.7 337.1 C573.5 336.3 574.1 335.1 575.0 335.2 C575.9 335.3 576.9 336.7 577.8 337.7 C578.6 338.7 579.2 339.7 580.1 341.1 C581.0 342.5 582.0 344.9 583.0 346.2 C584.0 347.5 584.8 348.7 585.8 349.0 C586.8 349.3 587.7 348.5 588.7 347.9 C589.8 347.2 591.1 345.6 592.1 345.1 C593.1 344.6 594.0 344.7 594.9 345.1 C595.8 345.5 596.4 346.7 597.2 347.3 C598.0 347.9 598.6 349.2 599.5 349.0 C600.4 348.8 601.4 347.6 602.3 346.2 C603.1 344.8 603.7 342.4 604.6 340.5 C605.5 338.6 606.5 336.4 607.5 334.8 C608.5 333.2 609.3 332.1 610.3 330.8 C611.3 329.5 612.6 327.7 613.7 326.8 C614.8 325.9 615.2 325.9 617.1 325.5 C619.0 325.1 622.6 324.7 625.0 324.6 C627.4 324.5 627.2 324.5 631.4 324.7 C635.6 324.9 643.2 325.4 650.0 325.6 C656.8 325.8 668.7 325.9 672.4 326.0" fill="none" stroke="#0000ff" stroke-width="2.0" stroke-linejoin="round"/>
<path d="M492.6 397.6 C493.0 397.2 494.4 396.3 495.2 395.0 C496.0 393.7 496.8 391.9 497.7 389.9 C498.6 387.8 499.4 384.8 500.3 382.7 C501.2 380.6 502.0 379.0 502.9 377.1 C503.8 375.2 504.7 373.4 505.4 371.4 C506.1 369.4 506.6 367.4 507.0 365.3 C507.4 363.2 507.7 361.1 508.0 359.1 C508.3 357.1 508.3 355.9 508.8 353.5 C509.3 351.1 510.4 346.8 511.1 344.4 C511.9 342.0 512.5 340.2 513.3 339.2 C514.0 338.1 514.5 337.9 515.6 338.1 C516.7 338.3 518.2 339.5 519.6 340.4 C521.0 341.2 522.9 342.2 524.2 343.2 C525.5 344.1 526.6 345.2 527.6 346.1 C528.6 347.0 529.0 347.5 530.0 348.5 C531.0 349.5 532.3 351.0 533.4 351.9 C534.5 352.8 535.6 352.8 536.8 353.6 C537.9 354.5 539.1 356.1 540.3 357.0 C541.4 357.9 542.3 358.7 543.7 359.3 C545.1 359.9 547.5 360.6 548.8 360.4 C550.1 360.2 550.6 358.9 551.6 358.2 C552.6 357.4 553.5 357.1 554.5 355.9 C555.5 354.7 556.3 352.8 557.3 350.8 C558.2 348.8 559.2 346.5 560.2 343.9 C561.2 341.3 562.0 338.0 563.0 335.4 C564.0 332.8 565.2 330.3 566.4 328.0 C567.5 325.7 568.7 324.1 569.9 321.7 C571.1 319.3 572.6 315.9 573.8 313.6 C575.0 311.3 576.2 309.2 577.3 307.8 C578.3 306.4 579.0 305.6 580.1 304.9 C581.2 304.2 583.0 303.7 584.1 303.8 C585.2 303.9 586.0 305.5 587.0 305.5 C588.0 305.5 588.8 304.4 589.8 303.8 C590.8 303.2 591.9 302.8 593.2 302.1 C594.5 301.4 596.3 300.2 597.8 299.8 C599.3 299.4 601.0 299.8 602.3 299.8 C603.6 299.8 604.8 299.6 605.8 299.8 C606.8 300.0 607.5 300.9 608.6 300.9 C609.7 300.9 611.4 299.7 612.6 299.6 C613.8 299.5 614.9 299.9 616.0 300.4 C617.1 300.9 618.4 301.8 619.4 302.7 C620.4 303.6 621.4 305.0 622.3 306.1 C623.2 307.2 623.9 308.2 625.0 309.5 C626.1 310.8 627.8 312.5 629.1 313.9 C630.5 315.3 631.6 316.6 633.1 317.9 C634.6 319.2 636.3 320.8 638.2 321.9 C640.1 322.9 642.2 323.5 644.5 324.2 C646.8 324.9 649.3 325.5 651.9 325.9 C654.5 326.3 657.6 326.6 659.9 326.7 C662.2 326.8 663.5 326.5 665.6 326.4 C667.7 326.3 671.3 326.0 672.4 325.9" fill="none" stroke="#000" stroke-width="2.0" stroke-linejoin="round"/>
<path d="M492.6 364.3 C492.9 365.0 493.5 367.0 494.2 368.4 C494.9 369.8 496.0 372.1 496.7 372.6 C497.4 373.1 497.6 372.4 498.3 371.4 C499.0 370.3 500.0 368.0 500.8 366.3 C501.6 364.6 502.2 363.2 502.9 361.2 C503.6 359.1 504.3 357.2 504.9 354.0 C505.5 350.8 505.9 345.9 506.5 342.1 C507.1 338.3 507.6 334.3 508.2 331.0 C508.8 327.7 509.1 325.6 509.9 322.4 C510.7 319.2 511.7 315.0 512.8 311.9 C513.8 308.8 515.0 305.4 516.2 303.9 C517.4 302.4 518.7 303.2 520.0 303.0 C521.3 302.8 522.9 302.8 524.2 302.8 C525.5 302.9 526.5 302.8 527.6 303.3 C528.7 303.8 529.7 304.6 531.0 305.6 C532.3 306.7 534.2 307.7 535.6 309.6 C537.0 311.5 538.1 314.5 539.1 317.0 C540.1 319.5 540.7 322.3 541.4 324.4 C542.1 326.5 542.5 327.9 543.1 329.8 C543.7 331.7 544.0 333.5 544.8 335.9 C545.6 338.2 546.8 341.6 547.7 343.9 C548.7 346.2 549.5 347.6 550.5 349.6 C551.5 351.6 552.9 354.8 553.9 355.8 C554.9 356.8 555.8 356.4 556.8 355.6 C557.8 354.8 558.6 353.2 559.6 350.8 C560.6 348.4 561.5 342.9 562.5 341.1 C563.5 339.4 564.3 340.4 565.3 340.3 C566.2 340.2 567.4 340.8 568.2 340.7 C569.1 340.6 569.6 340.5 570.4 339.9 C571.1 339.3 571.9 338.1 572.7 337.1 C573.5 336.2 573.9 334.2 575.0 334.2 C576.1 334.2 578.4 335.8 579.6 337.1 C580.8 338.4 581.4 341.1 582.4 342.2 C583.4 343.3 584.7 343.8 585.8 343.9 C586.9 344.0 588.1 343.3 589.2 342.8 C590.4 342.3 591.6 341.2 592.7 341.1 C593.9 341.0 594.9 341.8 596.1 342.2 C597.3 342.6 598.9 343.7 600.1 343.3 C601.3 342.9 602.5 341.1 603.5 339.9 C604.5 338.7 604.8 337.4 605.8 335.9 C606.8 334.4 607.9 332.4 609.2 330.8 C610.5 329.2 612.2 327.3 613.7 326.3 C615.2 325.3 616.4 325.2 618.3 324.9 C620.2 324.6 622.8 324.3 625.0 324.3 C627.2 324.3 627.2 324.5 631.4 324.7 C635.6 324.9 643.2 325.1 650.0 325.3 C656.8 325.5 668.7 325.8 672.4 325.9" fill="none" stroke="#0000ff" stroke-width="2.0" stroke-dasharray="4.5 3"/>
<path d="M495.8 260.2H511.9" stroke="#0000ff" stroke-width="1.9"/>
<path d="M495.8 276.3H511.9" stroke="#f04145" stroke-width="1.9"/>
<path d="M554.2 260.2H569.6" stroke="#000" stroke-width="1.9"/>
<path d="M554.2 276.3H569.6" stroke="#0000ff" stroke-width="1.9" stroke-dasharray="4.5 3"/>
<text x="514.60" y="264.70" font-size="12.30" text-anchor="start"><tspan font-style="italic">Z</tspan>-<tspan font-weight="bold">6</tspan> F1</text>
<text x="514.60" y="280.80" font-size="12.30" text-anchor="start"><tspan font-style="italic">Z</tspan>-<tspan font-weight="bold">6</tspan> F2</text>
<text x="572.40" y="264.70" font-size="12.35" text-anchor="start"><tspan font-weight="bold">6</tspan> F1, 395 nm 5 s</text>
<text x="572.40" y="280.80" font-size="12.35" text-anchor="start"><tspan font-weight="bold">6</tspan> F1, 470 nm 20 min</text>
<g font-weight="bold">
<text x="0.40" y="16.20" font-size="27.80" text-anchor="start">a</text>
<text x="0.60" y="236.20" font-size="27.80" text-anchor="start">b</text>
<text x="226.00" y="236.20" font-size="27.80" text-anchor="start">c</text>
<text x="456.80" y="235.80" font-size="27.80" text-anchor="start">d</text>
</g>
</svg>
</body></html>
